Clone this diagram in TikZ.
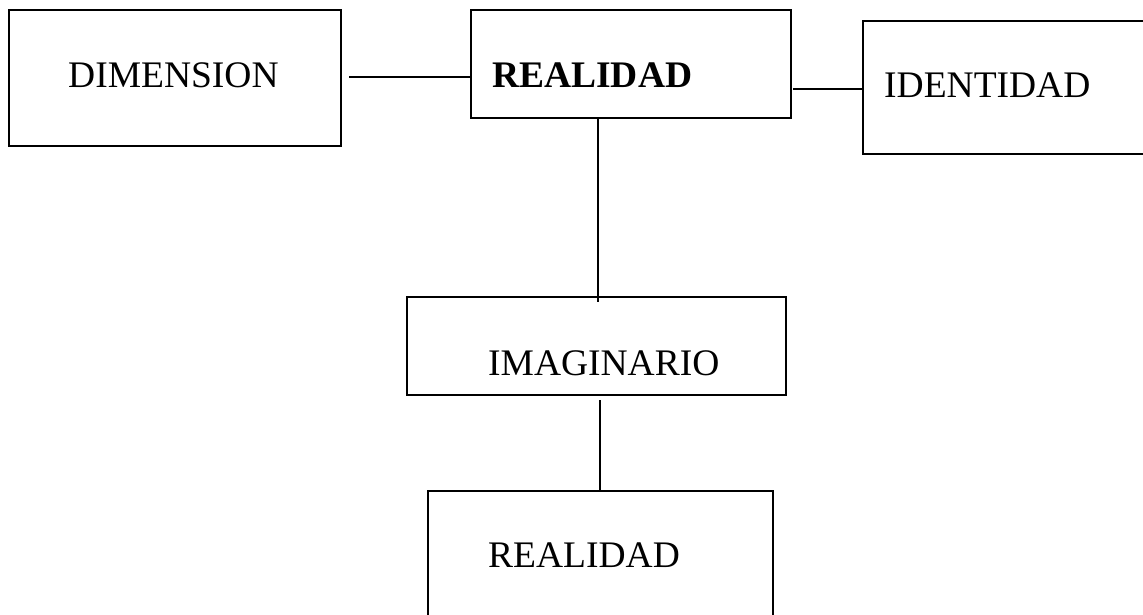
\documentclass[tikz,border=0pt]{standalone}
\usepackage{fontspec}
\setmainfont{Liberation Serif}
\begin{document}
\begin{tikzpicture}[x=1pt,y=-1pt,
  box/.style={draw=black,line width=1.4pt,inner sep=0pt,rectangle},
  lbl/.style={anchor=base west,inner sep=0pt,font=\fontsize{37.5}{40}\selectfont},
  conn/.style={draw=black,line width=1.4pt}]
\clip (0,0) rectangle (1143,614);
\fill[white] (0,0) rectangle (1143,614);
% boxes
\node[box,minimum width=332pt,minimum height=136pt] (dim) at (175,78) {};
\node[box,minimum width=320pt,minimum height=108pt] (real) at (631,64) {};
\node[box,minimum width=300pt,minimum height=133pt] (iden) at (1013,87.5) {};
\node[box,minimum width=379pt,minimum height=98pt] (imag) at (596.5,346) {};
\node[box,minimum width=345pt,minimum height=140pt] (real2) at (600.5,561) {};
% labels
\node[lbl] (tdim) at (68,87) {DIMENSION};
\node[lbl] (treal) at (492,87) {\bfseries REALIDAD};
\node[lbl] (tiden) at (884,97) {IDENTIDAD};
\node[lbl] (timag) at (488,375) {IMAGINARIO};
\node[lbl] (treal2) at (488,567) {REALIDAD};
% connector end points
\coordinate (c1) at (349,77);
\coordinate (c2) at (793,89);
\coordinate (c3) at (598,302);
\coordinate (c4) at (600,400);
% connectors
\draw[conn] (c1) -- (c1 -| real.west);
\draw[conn] (c2) -- (c2 -| iden.west);
\draw[conn] (c3 |- real.south) -- (c3);
\draw[conn] (c4) -- (c4 |- real2.north);
\end{tikzpicture}
\end{document}
